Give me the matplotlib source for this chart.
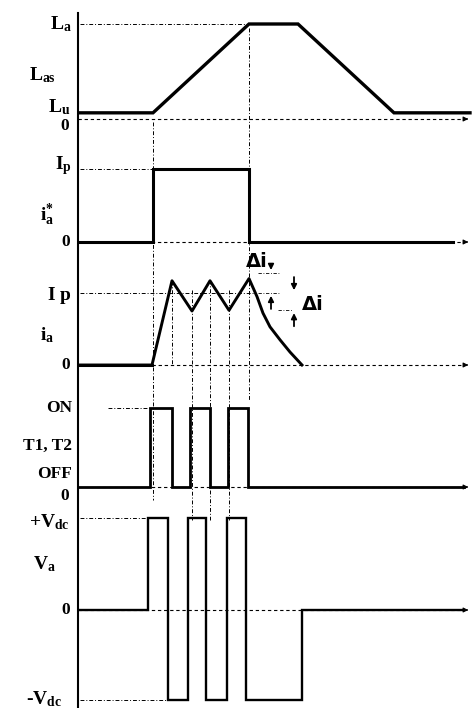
import matplotlib
matplotlib.use("Agg")
import matplotlib.pyplot as plt
from matplotlib.transforms import blended_transform_factory
from matplotlib.lines import Line2D

plt.rcParams['font.family'] = ['Liberation Serif', 'DejaVu Serif']
plt.rcParams['font.weight'] = 'bold'
plt.rcParams['mathtext.fontset'] = 'custom'
plt.rcParams['mathtext.rm'] = 'Liberation Serif:bold'
plt.rcParams['mathtext.it'] = 'Liberation Serif:italic:bold'
plt.rcParams['mathtext.bf'] = 'Liberation Serif:bold'

# ---------------- data (time in arbitrary units) ----------------
T_END = 392
# phase inductance profile
L_t = [0, 75, 171, 220, 316, 392]
L_v = [0.065, 0.065, 1.0, 1.0, 0.065, 0.065]
# reference current
iref_t = [0, 75, 75, 171, 171, 375]
iref_v = [0, 0, 1, 1, 0, 0]
# actual phase current (hysteresis)
ia_t = [0, 74, 94, 114, 132, 151, 171, 179, 185, 192, 202, 212, 224]
ia_v = [0, 0, 1.17, 0.75, 1.17, 0.76, 1.2, 0.95, 0.72, 0.53, 0.35, 0.18, 0]
delta_i = 0.24
# switch T1,T2 gate edges
gate_on = [72, 112, 150]
gate_off = [94, 132, 170]
# phase voltage edges
va_pos_on = [70, 110, 149]
va_neg_on = [90, 128, 168]
va_zero = 224
va_end = 385

fig = plt.figure(figsize=(4.73, 7.08), dpi=100)
W, H = 473, 708
X0 = 78
XMAX = 395

def panel(top, bot, zero, unit):
    ax = fig.add_axes([X0 / W, 1 - bot / H, (W - X0) / W, (bot - top) / H])
    ax.set_xlim(0, XMAX)
    ax.set_ylim((zero - bot) / unit, (zero - top) / unit)
    ax.axis('off')
    return ax

DASH = (0, (3, 2.5))
DASHDOT = (0, (4, 2, 1, 2))
FS = 12.5

def zero_axis(ax, y=0, x_start=0):
    ax.plot([x_start, T_END - 4], [y, y], color='k', lw=0.8, ls=DASH)
    ax.annotate('', xy=(T_END + 1, y), xytext=(T_END - 6, y),
                arrowprops=dict(arrowstyle='-|>', lw=0.8, color='k', mutation_scale=7))

def label(ax, y, s, x=-6, fs=FS):
    ax.text(x, y, s, ha='right', va='center', fontsize=fs, clip_on=False,
            fontweight='bold')

# ---------- panel 1: inductance ----------
ax1 = panel(0, 122, 119, 95)
zero_axis(ax1)
ax1.plot([2, 171], [L_v[2], L_v[2]], color='k', lw=0.7, ls=DASHDOT)
ax1.plot(L_t, L_v, color='k', lw=2.4, solid_joinstyle='miter')
label(ax1, 1.0, r'$\mathrm{L}_\mathrm{a}$', fs=14)
label(ax1, 0.46, r'$\mathrm{L}_\mathrm{as}$', x=-22, fs=14)
label(ax1, 0.12, r'$\mathrm{L}_\mathrm{u}$', x=-8, fs=14)
label(ax1, -0.07, '0', x=-9)

# ---------- panel 2: reference current ----------
ax2 = panel(122, 245, 242, 73)
zero_axis(ax2)
ax2.plot([2, 75], [1, 1], color='k', lw=0.7, ls=DASHDOT)
ax2.plot(iref_t, iref_v, color='k', lw=2.2, solid_joinstyle='miter')
label(ax2, 1.05, r'$\mathrm{I}_\mathrm{p}$', fs=14)
label(ax2, 0.37, r'$\mathrm{i}_\mathrm{a}^{*}$', x=-24, fs=14)
label(ax2, 0.0, '0', x=-8)

# ---------- panel 3: actual current ----------
ax3 = panel(245, 368, 365, 72)
zero_axis(ax3, x_start=74)
ax3.plot([2, 74], [0, 0], color='k', lw=2.2)
ax3.plot([2, 178], [1, 1], color='k', lw=0.7, ls=DASHDOT)
ax3.plot(ia_t, ia_v, color='k', lw=2.1, solid_joinstyle='round')
# hysteresis band annotations
ax3.plot([180, 202], [1 + delta_i + 0.04, 1 + delta_i + 0.04], color='k', lw=0.6, ls=DASHDOT)
ax3.plot([180, 202], [1, 1], color='k', lw=0.6, ls=DASHDOT)
ax3.plot([200, 214], [1 - delta_i, 1 - delta_i], color='k', lw=0.6, ls=DASHDOT)
arrow_kw = dict(arrowstyle='-|>', lw=1.3, color='k', mutation_scale=8)
ax3.annotate('', xy=(193, 1 + delta_i + 0.04), xytext=(193, 1.42), arrowprops=arrow_kw)
ax3.annotate('', xy=(193, 1.0), xytext=(193, 0.74), arrowprops=arrow_kw)
ax3.annotate('', xy=(216, 1.0), xytext=(216, 1.26), arrowprops=arrow_kw)
ax3.annotate('', xy=(216, 1 - delta_i), xytext=(216, 0.50), arrowprops=arrow_kw)
ax3.text(168, 1.44, 'Δi', ha='left', va='center', fontsize=14,
         family='DejaVu Sans', fontweight='bold')
ax3.text(224, 0.84, 'Δi', ha='left', va='center', fontsize=14,
         family='DejaVu Sans', fontweight='bold')
label(ax3, 0.97, r'$\mathrm{I}\ \mathrm{p}$', fs=14)
label(ax3, 0.42, r'$\mathrm{i}_\mathrm{a}$', x=-24, fs=14)
label(ax3, 0.0, '0', x=-8)

# ---------- panel 4: switch state ----------
ax4 = panel(368, 490, 487, 79)
zero_axis(ax4)
ax4.plot([30, 72], [1, 1], color='k', lw=0.7, ls=DASHDOT)
gx, gy = [0], [0]
for on, off in zip(gate_on, gate_off):
    gx += [on, on, off, off]
    gy += [0, 1, 1, 0]
gx.append(T_END - 6)
gy.append(0)
ax4.plot(gx, gy, color='k', lw=2.0, solid_joinstyle='miter')
label(ax4, 1.0, 'ON', x=-6)
label(ax4, 0.52, 'T1, T2', x=-6)
label(ax4, 0.17, 'OFF', x=-6)
label(ax4, -0.11, '0', x=-9)

# ---------- panel 5: phase voltage ----------
ax5 = panel(490, 708, 610, 92)
zero_axis(ax5)
ax5.plot([2, 70], [1, 1], color='k', lw=0.7, ls=DASHDOT)
ax5.plot([2, 90], [-0.98, -0.98], color='k', lw=0.7, ls=DASHDOT)
vx, vy = [0, va_pos_on[0]], [0, 0]
for i, (p, n) in enumerate(zip(va_pos_on, va_neg_on)):
    vx += [p, p, n, n]
    vy += [vy[-1], 1, 1, -0.98]
    nxt = va_pos_on[i + 1] if i + 1 < len(va_pos_on) else va_zero
    vx += [nxt]
    vy += [-0.98]
vx += [va_zero, va_end]
vy += [0, 0]
ax5.plot(vx, vy, color='k', lw=1.7, solid_joinstyle='miter')
label(ax5, 0.95, r'$+\mathrm{V}_\mathrm{dc}$', x=-8, fs=14)
label(ax5, 0.5, r'$\mathrm{V}_\mathrm{a}$', x=-22, fs=14)
label(ax5, 0.0, '0', x=-8)
label(ax5, -0.97, r'-$\mathrm{V}_\mathrm{dc}$', x=-16, fs=14)

# ---------- vertical time guides spanning panels ----------
gd = fig.add_axes([X0 / W, 0, (W - X0) / W, 1])
gd.set_xlim(0, XMAX)
gd.set_ylim(0, 1)
gd.axis('off')
tr = blended_transform_factory(gd.transData, fig.transFigure)
guides = [(75, 122, 500), (171, 28, 400), (94, 281, 365),
          (114, 290, 520), (132, 280, 520), (151, 290, 520)]
for t, y_top, y_bot in guides:
    gd.plot([t, t], [1 - y_top / H, 1 - y_bot / H], color='k', lw=0.7,
            ls=DASHDOT, transform=tr)

# vertical ordinate line
fig.add_artist(Line2D([X0 / W, X0 / W], [1 - 13 / H, 0], color='k', lw=1.5))

fig.savefig('out.png', dpi=100, facecolor='white')
